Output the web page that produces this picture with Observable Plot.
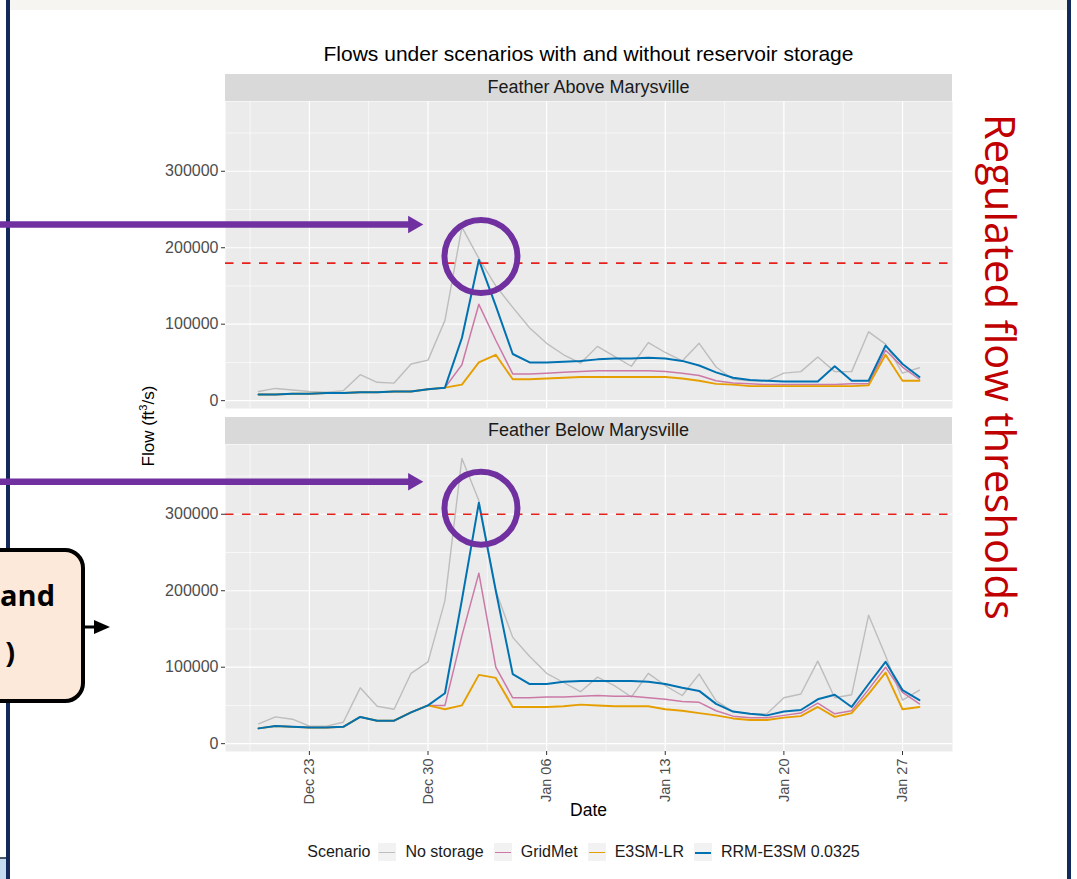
<!DOCTYPE html>
<html><head><meta charset="utf-8">
<script src="https://cdn.jsdelivr.net/npm/d3@7"></script>
<script src="https://cdn.jsdelivr.net/npm/@observablehq/plot@0.6"></script>
<style>
html,body{margin:0;padding:0;background:#fff;overflow:hidden}
#page{position:relative;width:1077px;height:879px;font-family:"Liberation Sans",Arial,sans-serif;overflow:hidden}
.abs{position:absolute}
.strip{background:#d9d9d9;color:#1a1a1a;font-size:18px;text-align:center;line-height:27px;height:27px;left:225px;width:727px}
#legend{left:225px;width:727px;top:842px;height:20px;display:flex;justify-content:center;align-items:center;font-size:16px;color:#1a1a1a}
#legend .key{width:18px;height:18px;background:#f2f2f2;position:relative;margin:0 9px 0 0}
#legend .key i{position:absolute;left:1px;right:1px;top:50%;display:block}
#legend .lab{margin-right:10px}
</style></head><body>
<div id="page">
  <div class="abs" style="left:10px;top:0;width:1057px;height:10px;background:#f6f5f2"></div>
  <div class="abs" style="left:6px;top:0;width:4px;height:879px;background:#13295a"></div>
  <div class="abs" style="left:1067px;top:0;width:4px;height:879px;background:#13295a"></div>
  <div class="abs" style="left:0;top:857px;width:6px;height:22px;background:#c5dcf0;border-top:2px solid #44546a"></div>
  <div class="abs" id="title" style="left:225px;width:727px;top:42px;text-align:center;font-size:21px;color:#000">Flows under scenarios with and without reservoir storage</div>
  <div class="abs strip" id="strip0" style="top:74px"></div>
  <div class="abs strip" id="strip1" style="top:417px"></div>
  <div class="abs" id="chart" style="left:0;top:0"></div>
  <div class="abs" id="ytitle" style="left:148px;top:426px;transform:translate(-50%,-50%) rotate(-90deg);font-size:17px;color:#000;white-space:nowrap">Flow (ft<sup style="font-size:11px">3</sup>/s)</div>
  <div class="abs" style="left:225px;width:727px;top:800px;text-align:center;font-size:17.5px;color:#000">Date</div>
  <div class="abs" id="legend"></div>
  <svg class="abs" style="left:955px;top:100px" width="80" height="540">
    <text transform="translate(30,14) rotate(90)" font-family="Open Sans" font-size="42" fill="#c00000" textLength="506" lengthAdjust="spacingAndGlyphs">Regulated flow thresholds</text>
  </svg>
  <div class="abs" style="left:-60px;top:548px;width:137px;height:147px;border:4px solid #000;border-radius:20px;background:#fde9d9"></div>
  <div class="abs" style="right:1022px;top:575px;font-family:'Open Sans';font-weight:700;font-size:29px;color:#000;line-height:40px">and</div>
  <div class="abs" style="right:1062px;top:632px;font-family:'Open Sans';font-weight:700;font-size:29px;color:#000;line-height:40px">)</div>
  <svg class="abs" style="left:85px;top:615px" width="30" height="24">
    <line x1="0" y1="12" x2="12" y2="12" stroke="#000" stroke-width="3"/>
    <path d="M9,5 L25,12 L9,19 Z" fill="#000"/>
  </svg>
</div>
<script>
// ---- categories ----
const sites = ["Feather Above Marysville", "Feather Below Marysville"];
const scenarios = ["No storage", "GridMet", "E3SM-LR", "RRM-E3SM 0.0325"];
const scenarioColors = ["#bdbdbd", "#cc79a7", "#e69f00", "#0072b2"];
const scenarioWidths = [1.4, 1.5, 1.9, 2.0];
const dates = d3.utcDays(new Date(Date.UTC(1996, 11, 20)), new Date(Date.UTC(1997, 0, 29)));

// ---- series values (ft^3/s), Dec 20 1996 .. Jan 28 1997 ----
const aboveNoStorage = [12000,16000,14000,12000,11000,13000,34000,24000,23000,48000,53000,105000,227000,186000,150000,122000,95000,75000,60000,49000,71000,58000,45000,76000,63000,52000,75000,44000,28000,26000,26000,36000,38000,57000,38000,38000,90000,74000,36000,43000];
const aboveGridMet   = [8000,8000,9000,9000,10000,10000,11000,11000,12000,12000,15000,17000,47000,126000,79000,35000,35000,36000,37000,38000,39000,39000,39000,39000,38000,36000,33000,26000,23000,22000,21000,21000,21000,21000,21000,22000,22000,66000,44000,28000];
const aboveE3SMLR    = [8000,8000,9000,9000,10000,10000,11000,11000,12000,12000,15000,17000,21000,50000,60000,28000,28000,29000,30000,31000,31000,31000,31000,31000,31000,29000,26000,22000,21000,19000,19000,19000,19000,19000,19000,19000,20000,60000,26000,26000];
const aboveRRM       = [8000,8000,9000,9000,10000,10000,11000,11000,12000,12000,15000,17000,82000,184000,124000,61000,50000,50000,51000,52000,54000,55000,55000,56000,55000,52000,46000,37000,30000,27000,26000,25000,25000,25000,45000,26000,26000,72000,48000,31000];

const belowNoStorage = [26000,35000,32000,23000,23000,28000,73000,49000,45000,92000,107000,187000,373000,318000,200000,139000,114000,92000,80000,68000,87000,76000,61000,92000,76000,63000,91000,56000,42000,39000,39000,60000,65000,108000,60000,64000,168000,115000,57000,70000];
const belowGridMet   = [20000,23000,22000,21000,21000,22000,35000,30000,30000,41000,50000,50000,141000,223000,100000,60000,60000,61000,61000,62000,63000,62000,62000,60000,58000,55000,54000,43000,36000,34000,34000,37000,40000,53000,39000,43000,71000,100000,67000,52000];
const belowE3SMLR    = [20000,23000,22000,21000,21000,22000,35000,30000,30000,41000,50000,45000,50000,90000,86000,48000,48000,48000,49000,51000,50000,49000,49000,49000,45000,43000,40000,37000,33000,31000,31000,34000,36000,48000,35000,40000,65000,93000,45000,48000];
const belowRRM       = [20000,23000,22000,21000,21000,22000,35000,30000,30000,41000,50000,66000,188000,315000,200000,91000,78000,78000,81000,82000,82000,82000,82000,81000,78000,73000,69000,52000,42000,39000,37000,42000,44000,58000,64000,48000,78000,107000,70000,57000];

const seriesBySite = [
  [aboveNoStorage, aboveGridMet, aboveE3SMLR, aboveRRM],
  [belowNoStorage, belowGridMet, belowE3SMLR, belowRRM]
];

// ---- thresholds & tick labels ----
const thresholds = [180000, 300000];
const yMajor = [0, 100000, 200000, 300000];
const yMinor = [50000, 150000, 250000, 350000];
const xMajor = [new Date(Date.UTC(1996,11,23)), new Date(Date.UTC(1996,11,30)), new Date(Date.UTC(1997,0,6)), new Date(Date.UTC(1997,0,13)), new Date(Date.UTC(1997,0,20)), new Date(Date.UTC(1997,0,27))];

// ---- annotations (data coordinates) ----
const circleDates = [new Date(Date.UTC(1997,0,2,3)), new Date(Date.UTC(1997,0,2,3))];
const circleFlows = [188500, 308000];
const arrowStart = new Date(Date.UTC(1996,11,1));
const arrowHeadDates = [new Date(Date.UTC(1996,11,29,3)), new Date(Date.UTC(1996,11,29,3))];
const arrowFlows = [230500, 342500];

// ---- build table ----
const rows = [];
sites.forEach((site, si) => scenarios.forEach((sc, ki) => seriesBySite[si][ki].forEach((v, i) => rows.push({site, scenario: sc, date: dates[i], flow: v}))));

const [ymin, ymax] = d3.extent(rows, d => d.flow);
const ypad = (ymax - ymin) * 0.05;
const [xmin, xmax] = d3.extent(dates);
const xpad = (xmax - xmin) * 0.05;
const xDomain = [new Date(+xmin - xpad), new Date(+xmax + xpad)];
const xMinor = xMajor.map(d => new Date(+d - 3.5 * 864e5)).filter(d => d >= xDomain[0] && d <= xDomain[1]);

const thresholdRows = sites.map((site, i) => ({site, value: thresholds[i]}));
const circleRows = sites.map((site, i) => ({site, date: circleDates[i], flow: circleFlows[i]}));
const arrowRows = sites.map((site, i) => ({site, x1: arrowStart, x2: arrowHeadDates[i], flow: arrowFlows[i]}));
const purple = "#7030a0";

const lineMarks = scenarios.map((sc, k) => Plot.line(rows.filter(d => d.scenario === sc), {
  x: "date", y: "flow", fy: "site", stroke: scenarioColors[k], strokeWidth: scenarioWidths[k]
}));

const chart = Plot.plot({
  width: 1077, height: 879,
  marginLeft: 225, marginRight: 125, marginTop: 101, marginBottom: 128,
  style: {background: "transparent", fontFamily: "Liberation Sans, Arial, sans-serif", fontSize: "16px", overflow: "hidden"},
  x: {type: "utc", domain: xDomain, label: null},
  y: {domain: [ymin - ypad, ymax + ypad], label: null},
  fy: {domain: sites, axis: null, paddingInner: 0.105, paddingOuter: 0, label: null},
  marks: [
    Plot.frame({fill: "#ebebeb"}),
    Plot.gridY(yMinor, {stroke: "#fff", strokeOpacity: 1, strokeWidth: 0.6}),
    Plot.gridX(xMinor, {stroke: "#fff", strokeOpacity: 1, strokeWidth: 0.6}),
    Plot.gridY(yMajor, {stroke: "#fff", strokeOpacity: 1, strokeWidth: 1.2}),
    Plot.gridX(xMajor, {stroke: "#fff", strokeOpacity: 1, strokeWidth: 1.2}),
    ...lineMarks,
    Plot.ruleY(thresholdRows, {y: "value", fy: "site", stroke: "#e8201c", strokeWidth: 1.7, strokeDasharray: "8.5,8.5"}),
    Plot.ruleY(arrowRows, {y: "flow", x1: "x1", x2: "x2", fy: "site", stroke: purple, strokeWidth: 6.5}),
    Plot.dot(arrowRows, {x: "x2", y: "flow", fy: "site", symbol: "triangle", rotate: 90, r: 6.5, fill: purple, stroke: null}),
    Plot.dot(circleRows, {x: "date", y: "flow", fy: "site", r: 36.5, stroke: purple, strokeWidth: 6, fill: "none"}),
    Plot.axisY({ticks: yMajor, tickFormat: d => String(d), tickSize: 4, tickPadding: 3, stroke: "#333", fill: "#4d4d4d", fontSize: 16, label: null}),
    Plot.axisX({ticks: xMajor, tickFormat: d3.utcFormat("%b %d"), tickRotate: -90, tickSize: 4, tickPadding: 3, stroke: "#333", fill: "#4d4d4d", fontSize: 14.5, label: null})
  ]
});
document.getElementById("chart").appendChild(chart);

document.getElementById("strip0").textContent = sites[0];
document.getElementById("strip1").textContent = sites[1];

const legend = document.getElementById("legend");
const ttl = document.createElement("span");
ttl.textContent = "Scenario";
ttl.style.marginRight = "8px";
legend.appendChild(ttl);
scenarios.forEach((sc, k) => {
  const key = document.createElement("span");
  key.className = "key";
  const ln = document.createElement("i");
  ln.style.borderTop = `${scenarioWidths[k]}px solid ${scenarioColors[k]}`;
  key.appendChild(ln);
  const lab = document.createElement("span");
  lab.className = "lab";
  lab.textContent = sc;
  legend.appendChild(key);
  legend.appendChild(lab);
});
</script>
</body></html>
